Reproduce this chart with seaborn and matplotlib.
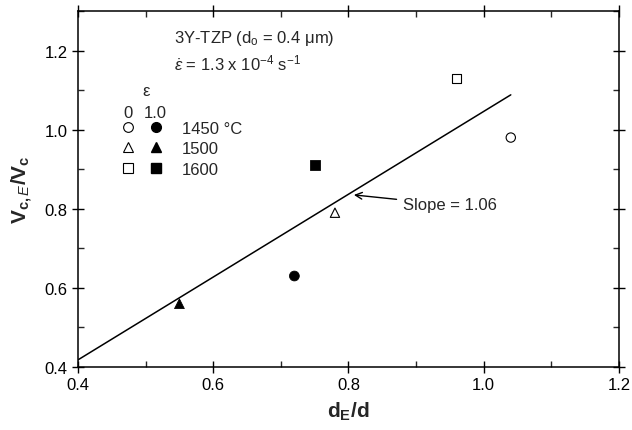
import seaborn as sns
import matplotlib.pyplot as plt
import pandas as pd
from matplotlib.lines import Line2D
from matplotlib.legend_handler import HandlerTuple
from matplotlib.ticker import MultipleLocator

# grain size ratio vs cavity volume ratio, 3Y-TZP
temps = ['1450 °C', '1500', '1600']
markers = ['o', '^', 's']

# strain 0 (open) and strain 1.0 (filled)
d_open = [1.04, 0.78, 0.96]
v_open = [0.98, 0.79, 1.13]
d_filled = [0.72, 0.55, 0.75]
v_filled = [0.63, 0.56, 0.91]

# fitted line, slope ~1.06
fit_x = [0.40, 1.04]
fit_y = [0.418, 1.088]

sns.set_style('ticks')
plt.rcParams['font.family'] = ['Liberation Sans', 'DejaVu Sans']
plt.rcParams['mathtext.fontset'] = 'custom'
plt.rcParams['mathtext.rm'] = 'Liberation Sans'
plt.rcParams['mathtext.it'] = 'Liberation Sans:italic'
plt.rcParams['mathtext.bf'] = 'Liberation Sans:bold'

fs = 12

fig = plt.figure(figsize=(6.32, 4.31), dpi=100)
ax = fig.add_axes([0.1234, 0.1462, 0.856, 0.826])

sns.lineplot(x=fit_x, y=fit_y, ax=ax, color='black', lw=1.1)

df_open = pd.DataFrame({'d': d_open, 'v': v_open, 'T': temps})
df_filled = pd.DataFrame({'d': d_filled, 'v': v_filled, 'T': temps})
mk = dict(zip(temps, markers))
sns.scatterplot(data=df_open, x='d', y='v', style='T', markers=mk, ax=ax,
                facecolor='white', edgecolor='black', linewidth=0.8, s=45, legend=False)
sns.scatterplot(data=df_filled, x='d', y='v', style='T', markers=mk, ax=ax,
                color='black', edgecolor='black', s=50, legend=False)

ax.set_xlim(0.4, 1.2)
ax.set_ylim(0.4, 1.3)
ax.xaxis.set_minor_locator(MultipleLocator(0.1))
ax.yaxis.set_minor_locator(MultipleLocator(0.1))
ax.set_xticks([0.4, 0.6, 0.8, 1.0, 1.2])
ax.set_xticklabels(['0.4', '0.6', '0.8', '1.0', '1.2'])
ax.set_yticks([0.4, 0.6, 0.8, 1.0, 1.2])
ax.set_yticklabels(['0.4', '0.6', '0.8', '1.0', '1.2'])
ax.tick_params(which='major', direction='inout', length=8, width=1, labelsize=fs,
               top=True, right=True, colors='black')
ax.tick_params(which='minor', direction='in', length=4, width=1, top=True, right=True)
for s in ax.spines.values():
    s.set_linewidth(1.1)
    s.set_color('black')

ax.set_xlabel(r'$\mathbf{d_E/d}$', fontsize=15, labelpad=5)
ax.set_ylabel(r'$\mathbf{V}_{\mathbf{c,}\mathit{E}}\mathbf{/V}_{\mathbf{c}}$', fontsize=15, labelpad=7)

ax.text(0.542, 1.234, r'3Y-TZP (d$_\mathrm{o}$ = 0.4 μm)', fontsize=fs, va='center')
ax.text(0.542, 1.171, r'$\dot{\varepsilon}$ = 1.3 x 10$^{\mathrm{-4}}$ s$^{\mathrm{-1}}$', fontsize=fs, va='center')

# legend header
ax.text(0.501, 1.099, 'ε', fontsize=fs, ha='center', va='center')
ax.text(0.474, 1.044, '0', fontsize=fs, ha='center', va='center')
ax.text(0.514, 1.044, '1.0', fontsize=fs, ha='center', va='center')

handles = []
for m in markers:
    h_open = Line2D([], [], ls='', marker=m, mfc='white', mec='black', ms=7, mew=0.8)
    h_fill = Line2D([], [], ls='', marker=m, mfc='black', mec='black', ms=7)
    handles.append((h_open, h_fill))
ax.legend(handles, temps, handler_map={tuple: HandlerTuple(ndivide=None, pad=0)},
          loc='upper left', bbox_to_anchor=(0.066, 0.692), frameon=False,
          handlelength=3.35, handletextpad=0.72, borderpad=0, borderaxespad=0,
          labelspacing=0.34, fontsize=fs)

ax.annotate('Slope = 1.06', xy=(0.808, 0.835), xytext=(0.88, 0.81),
            fontsize=fs, va='center',
            arrowprops=dict(arrowstyle='->', color='black', lw=1, shrinkA=2, shrinkB=0))

fig.savefig('out.png', dpi=100)
